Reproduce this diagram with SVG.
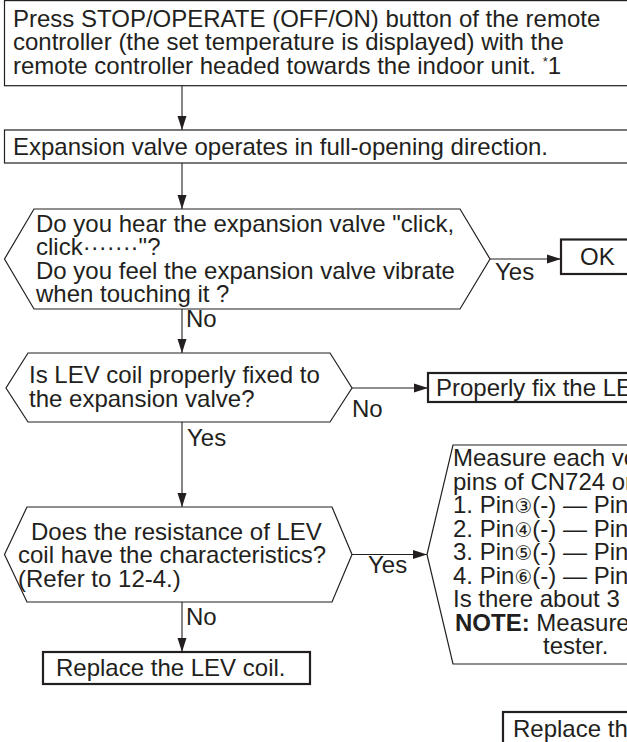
<svg xmlns="http://www.w3.org/2000/svg" width="627" height="742" viewBox="0 0 627 742">
<defs>
<style>
text{font-family:"Liberation Sans",Arial,"DejaVu Sans",sans-serif;font-size:24px;fill:#231f20}
.thin{fill:#fff;stroke:#231f20;stroke-width:1.2}
.thick{fill:#fff;stroke:#231f20;stroke-width:2.2}
.conn line{stroke:#231f20;stroke-width:1.1;fill:none}
.b{font-weight:bold}
.c{font-size:20px;font-family:"DejaVu Sans",sans-serif}
</style>
<marker id="arr" markerUnits="userSpaceOnUse" markerWidth="14" markerHeight="10" viewBox="0 0 14 10" refX="14" refY="5" orient="auto">
<path d="M0,0.5 L14,5 L0,9.5 Z" fill="#231f20"/>
</marker>
</defs>
<rect width="627" height="742" fill="#fff"/>

<g id="n-press">
<rect class="thin" x="4.5" y="0.6" width="640" height="85.1"/>
<text x="13" y="26.5">Press STOP/OPERATE (OFF/ON) button of the remote</text>
<text x="13" y="50">controller (the set temperature is displayed) with the</text>
<text x="13" y="73.5">remote controller headed towards the indoor unit. <tspan font-size="13" dy="-8">*</tspan><tspan dy="8">1</tspan></text>
</g>

<g id="n-expansion">
<rect class="thin" x="4.5" y="130" width="640" height="33"/>
<text x="13" y="155">Expansion valve operates in full-opening direction.</text>
</g>

<g id="n-hear">
<polygon class="thin" points="34,209 460,209 490,259 460,309 34,309 4.5,259"/>
<text x="36" y="231.5">Do you hear the expansion valve "click,</text>
<text x="36" y="255">click·······"?</text>
<text x="36" y="278.5">Do you feel the expansion valve vibrate</text>
<text x="36" y="302">when touching it ?</text>
</g>

<g id="n-ok">
<rect class="thick" x="561" y="239.5" width="80" height="34.5"/>
<text x="580" y="265">OK</text>
</g>

<g id="n-fixed">
<polygon class="thin" points="28,353 330,353 352,388 330,422 28,422 6,388"/>
<text x="29" y="383">Is LEV coil properly fixed to</text>
<text x="29" y="406.5">the expansion valve?</text>
</g>

<g id="n-fix">
<rect class="thick" x="428" y="373" width="220" height="29"/>
<text x="436" y="395.5">Properly fix the LE</text>
</g>

<g id="n-resistance">
<polygon class="thin" points="27,507 332,507 352,554.5 332,602 27,602 4.5,554.5"/>
<text x="31" y="539.5">Does the resistance of LEV</text>
<text x="18" y="563">coil have the characteristics?</text>
<text x="18" y="586.5">(Refer to 12-4.)</text>
</g>

<g id="n-replace-coil">
<rect class="thick" x="43" y="652" width="267" height="32"/>
<text x="56" y="676">Replace the LEV coil.</text>
</g>

<g id="n-measure">
<polygon class="thin" points="453,445 650,445 650,664 453,664 427,554.5"/>
<text x="453" y="466">Measure each vo</text>
<text x="453" y="489.5">pins of CN724 or</text>
<text x="453" y="513">1. Pin<tspan class="c">③</tspan>(-) — Pin</text>
<text x="453" y="536.5">2. Pin<tspan class="c">④</tspan>(-) — Pin</text>
<text x="453" y="560">3. Pin<tspan class="c">⑤</tspan>(-) — Pin</text>
<text x="453" y="583.5">4. Pin<tspan class="c">⑥</tspan>(-) — Pin</text>
<text x="453" y="607">Is there about 3 -</text>
<text x="455" y="630.5"><tspan class="b">NOTE:</tspan> Measure</text>
<text x="543" y="654">tester.</text>
</g>

<g id="n-replace">
<rect class="thick" x="503" y="712" width="200" height="45"/>
<text x="513" y="737">Replace th</text>
</g>

<g id="connectors" class="conn">
<line x1="182" y1="85.7" x2="182" y2="130" marker-end="url(#arr)"/>
<line x1="182" y1="163" x2="182" y2="209" marker-end="url(#arr)"/>
<line x1="490" y1="259" x2="561" y2="259" marker-end="url(#arr)"/>
<line x1="182" y1="309" x2="182" y2="353" marker-end="url(#arr)"/>
<line x1="352" y1="388" x2="428" y2="388" marker-end="url(#arr)"/>
<line x1="182" y1="422" x2="182" y2="507" marker-end="url(#arr)"/>
<line x1="352" y1="554.5" x2="427" y2="554.5" marker-end="url(#arr)"/>
<line x1="182" y1="602" x2="182" y2="652" marker-end="url(#arr)"/>
<text x="495" y="280">Yes</text>
<text x="186" y="327">No</text>
<text x="352" y="417">No</text>
<text x="187" y="446">Yes</text>
<text x="368" y="573">Yes</text>
<text x="186" y="625">No</text>
</g>
</svg>
